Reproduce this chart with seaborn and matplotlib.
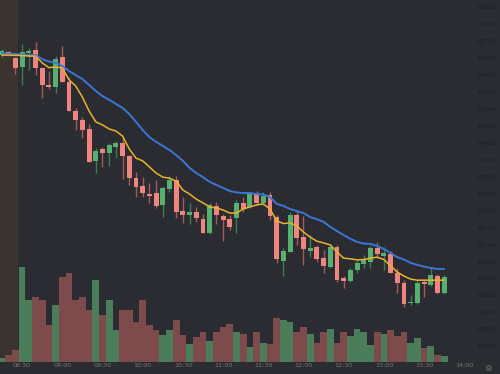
import numpy as np
import pandas as pd
import matplotlib
matplotlib.use("Agg")
import matplotlib.pyplot as plt
import seaborn as sns

# ---- data (5-minute candles, 08:15 .. 13:45) ----
opens = [636.59, 636.67, 636.51, 636.25, 636.64, 636.74, 636.20, 635.71, 635.66, 636.53,
         635.81, 634.94, 634.68, 634.40, 633.47, 633.81, 633.71, 633.89, 634.01, 633.61,
         632.97, 632.73, 632.49, 632.51, 632.17, 632.63, 632.91, 631.99, 631.87, 631.97,
         631.75, 631.35, 632.14, 631.85, 631.75, 631.78, 632.22, 632.10, 632.48, 632.22,
         632.46, 631.82, 630.52, 630.79, 631.87, 631.23, 630.82, 630.92, 630.61, 630.35,
         630.92, 630.01, 629.93, 630.25, 630.42, 630.50, 630.89, 630.66, 630.72, 630.17,
         629.88, 629.27, 629.29, 629.91, 629.81, 630.07, 629.56]
highs = [636.77, 636.71, 636.54, 636.92, 636.80, 636.98, 636.25, 636.13, 636.56, 636.86,
         635.95, 635.03, 634.77, 634.56, 633.85, 633.89, 634.01, 634.07, 634.17, 633.64,
         633.15, 633.00, 632.82, 632.91, 632.73, 633.02, 633.02, 632.41, 632.24, 632.11,
         631.90, 632.23, 632.27, 631.90, 631.87, 632.32, 632.40, 632.56, 632.59, 632.56,
         632.56, 631.87, 630.89, 631.97, 632.02, 631.84, 631.28, 630.99, 630.84, 630.99,
         630.99, 630.07, 630.31, 630.55, 630.69, 630.96, 631.08, 630.94, 630.81, 630.31,
         629.96, 629.51, 629.96, 629.99, 630.35, 630.13, 630.10]
lows = [636.53, 636.56, 636.02, 635.71, 636.15, 636.00, 635.33, 635.58, 635.46, 635.80,
        634.94, 634.38, 634.14, 633.44, 633.12, 633.30, 633.32, 633.55, 632.93, 632.76,
        632.39, 632.41, 632.23, 632.07, 631.82, 632.55, 631.78, 631.63, 631.61, 631.67,
        631.34, 631.31, 631.61, 631.11, 631.43, 631.33, 631.97, 632.08, 632.17, 632.17,
        631.72, 630.47, 630.07, 630.78, 630.99, 630.40, 630.64, 630.49, 630.16, 630.31,
        629.90, 629.72, 629.90, 630.16, 630.31, 630.31, 630.59, 630.25, 630.16, 629.57,
        629.16, 629.22, 629.25, 629.45, 629.78, 629.54, 629.54]
closes = [636.71, 636.64, 636.20, 636.69, 636.72, 636.20, 635.71, 635.64, 636.47, 635.81,
          634.95, 634.68, 634.38, 633.45, 633.77, 633.69, 633.94, 634.01, 633.61, 632.96,
          632.71, 632.53, 632.43, 632.14, 632.66, 632.91, 631.97, 631.87, 631.95, 631.78,
          631.35, 632.17, 631.87, 631.73, 631.53, 632.24, 632.04, 632.49, 632.22, 632.43,
          631.84, 630.57, 630.81, 631.87, 631.19, 630.86, 630.89, 630.57, 630.37, 630.92,
          629.96, 629.93, 630.25, 630.46, 630.57, 630.89, 630.72, 630.75, 630.17, 629.88,
          629.25, 629.31, 629.88, 629.84, 630.10, 629.58, 630.05]
volumes = [4, 7, 12, 95, 62, 65, 62, 37, 57, 85, 89, 62, 65, 52, 82, 47, 62, 32, 52, 52,
           40, 62, 37, 32, 27, 32, 42, 27, 18, 25, 30, 21, 30, 35, 38, 30, 28, 15, 30, 19,
           18, 44, 42, 40, 30, 35, 28, 19, 30, 33, 19, 30, 26, 33, 30, 17, 30, 28, 32, 26,
           30, 19, 24, 14, 16, 7, 6]
ema_fast = [636.59, 636.59, 636.58, 636.58, 636.56, 636.56, 636.36, 636.22, 636.24, 636.21,
            635.86, 635.68, 635.35, 634.94, 634.62, 634.53, 634.41, 634.35, 634.20, 633.82,
            633.55, 633.47, 633.29, 633.11, 632.99, 632.96, 632.87, 632.61, 632.49, 632.34,
            632.23, 632.11, 632.08, 632.02, 631.93, 631.93, 632.05, 632.11, 632.17, 632.20,
            632.05, 631.70, 631.62, 631.64, 631.55, 631.37, 631.22, 631.10, 631.05, 630.99,
            630.78, 630.60, 630.58, 630.55, 630.56, 630.60, 630.63, 630.56, 630.37, 630.19,
            630.07, 629.98, 629.95, 629.95, 629.95, 629.95, 629.95]
ema_slow = [636.65, 636.62, 636.62, 636.61, 636.59, 636.59, 636.47, 636.40, 636.36, 636.27,
            636.12, 636.00, 635.88, 635.71, 635.53, 635.38, 635.27, 635.15, 635.03, 634.85,
            634.62, 634.38, 634.17, 634.03, 633.91, 633.79, 633.64, 633.47, 633.26, 633.11,
            632.99, 632.85, 632.76, 632.67, 632.58, 632.54, 632.52, 632.52, 632.49, 632.48,
            632.40, 632.20, 632.14, 632.05, 631.99, 631.93, 631.81, 631.75, 631.67, 631.52,
            631.40, 631.28, 631.17, 631.08, 631.03, 631.02, 630.96, 630.87, 630.75, 630.63,
            630.56, 630.46, 630.40, 630.35, 630.31, 630.28, 630.28]
x_tick_labels = ["08:30", "09:00", "09:30", "10:00", "10:30", "11:00", "11:30",
                 "12:00", "12:30", "13:00", "13:30", "14:00"]
price_ticks = [628.0, 628.5, 629.0, 629.5, 630.0, 630.5, 631.0, 631.5, 632.0, 632.5,
               633.0, 633.5, 634.0, 634.5, 635.0, 635.5, 636.0, 636.5, 637.0, 637.5, 638.0]
premarket_count = 3

# ---- style ----
BG = "#2b2c31"
sns.set_theme(style="dark", rc={"axes.facecolor": BG, "figure.facecolor": BG})
plt.rcParams['font.family'] = ['DejaVu Sans']

UP_BODY, DN_BODY = "#56b06f", "#f0857f"
UP_WICK, DN_WICK = "#3e7a52", "#a05b5b"
UP_VOL, DN_VOL = "#4b7d5a", "#7e4b4d"
PRE = "#3b342e"

df = pd.DataFrame({"i": np.arange(len(opens)), "open": opens, "high": highs,
                   "low": lows, "close": closes, "volume": volumes,
                   "ema_fast": ema_fast, "ema_slow": ema_slow})
df["up"] = df["close"] >= df["open"]

W, H = 500, 374
fig = plt.figure(figsize=(W / 100, H / 100), dpi=100)
fig.patch.set_facecolor(BG)
bottom_px = 362
rect = [0, (H - bottom_px) / H, 1, bottom_px / H]

px_per_bar = 6.7
x0 = -2 / px_per_bar
xlim = (x0, x0 + W / px_per_bar)
ymax = 638.215

# volume axis (behind)
axv = fig.add_axes(rect)
axv.set_facecolor(BG)
axv.set_xlim(*xlim)
axv.set_ylim(0, max(volumes) * bottom_px / 95)
axv.axvspan(x0 - 1, premarket_count - 0.6, color=PRE, lw=0, zorder=0)
axv.bar(df["i"], df["volume"], width=1.0, linewidth=0,
        color=np.where(df["up"], UP_VOL, DN_VOL), zorder=1)
axv.set_xticks([])
axv.set_yticks([])
axv.tick_params(labelbottom=False, labelleft=False)
axv.grid(False)
for s in axv.spines.values():
    s.set_visible(False)

# price axis (front)
ax = fig.add_axes(rect)
ax.patch.set_visible(False)
ax.set_xlim(*xlim)
ax.set_ylim(ymax - bottom_px / 33.9, ymax)

ax.vlines(df["i"], df["low"], df["high"],
          colors=np.where(df["up"], UP_WICK, DN_WICK), linewidth=1.0, zorder=2)
body_lo = np.minimum(df["open"], df["close"])
body_h = np.maximum(np.abs(df["close"] - df["open"]), 0.03)
ax.bar(df["i"], body_h, bottom=body_lo, width=0.72, linewidth=0,
       color=np.where(df["up"], UP_BODY, DN_BODY), zorder=3)

sns.lineplot(data=df, x="i", y="ema_slow", ax=ax, color="#3a76d8", linewidth=1.4, zorder=4)
sns.lineplot(data=df, x="i", y="ema_fast", ax=ax, color="#e9b32c", linewidth=1.1, zorder=5)

ax.set_xlabel("")
ax.set_ylabel("")
ax.grid(False)
for s in ax.spines.values():
    s.set_visible(False)
ax.yaxis.tick_right()
ax.set_yticks(price_ticks)
ax.set_yticklabels([f"{p:.2f}" for p in price_ticks])
ax.tick_params(axis="y", length=0, pad=-2.5, labelsize=4.0, labelcolor="#1d1e22")
for lab in ax.get_yticklabels():
    lab.set_horizontalalignment("right")
tick_pos = [3 + 6 * k for k in range(len(x_tick_labels))]
ax.set_xticks(tick_pos)
ax.set_xticklabels(x_tick_labels)
ax.tick_params(axis="x", length=0, pad=0.6, labelsize=4.6, labelcolor="#78786f")

fig.text(488 / W, 1 - 368 / H, "\u2699", fontsize=6, color="#78786f",
         ha="center", va="center")

fig.savefig("out.png", dpi=100, facecolor=BG)
